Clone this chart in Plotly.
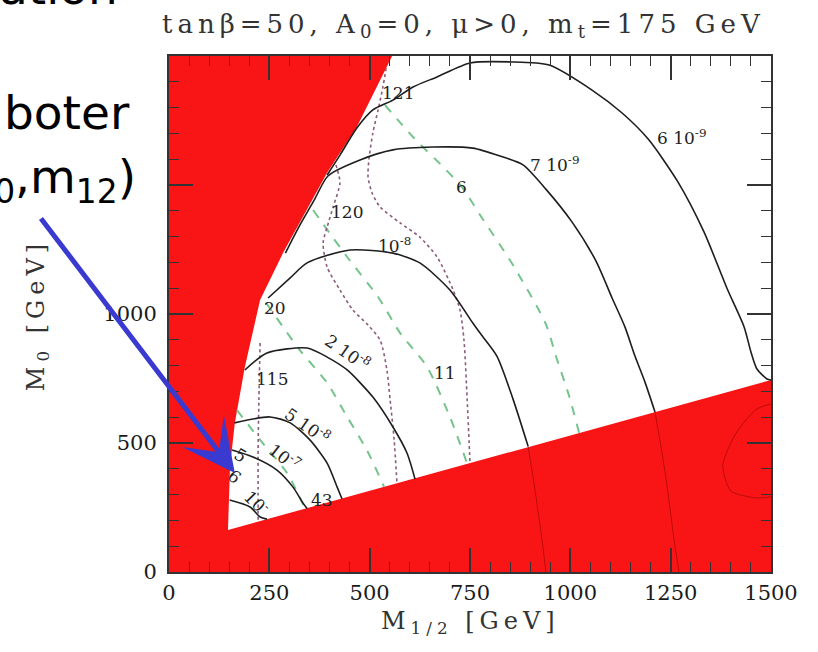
import plotly.graph_objects as go

# ---- axis ranges and ticks ----
m12_ticks = [0, 250, 500, 750, 1000, 1250, 1500]
m0_ticks = [0, 500, 1000, 1500, 2000]
m0_ticktext = ["0", "500", "1000", "", ""]

# ---- allowed (white) region: left edge (tachyonic / LSP limit) and lower edge ----
edge_m12 = [556, 468, 394, 326, 284, 227, 189, 164, 152, 147]
edge_m0 = [2000, 1725, 1547, 1353, 1236, 1054, 795, 578, 407, 163]
floor_m12 = [147, 1500]
floor_m0 = [163, 744]

# ---- BR contours (solid black) ----
br_6e9_x = [394, 426, 468, 508, 558, 608, 668, 750, 852, 947, 1054, 1129, 1194, 1268, 1333, 1390, 1433, 1450, 1465, 1490, 1500]
br_6e9_y = [1539, 1616, 1721, 1791, 1829, 1880, 1919, 1973, 1977, 1965, 1868, 1779, 1678, 1512, 1318, 1101, 950, 853, 787, 748, 744]
br_7e9_x = [290, 322, 362, 396, 476, 558, 658, 757, 825, 882, 939, 1004, 1064, 1104, 1136, 1161, 1186, 1211]
br_7e9_y = [1236, 1333, 1442, 1535, 1597, 1636, 1647, 1643, 1612, 1578, 1484, 1357, 1205, 1062, 950, 837, 736, 620]
br_1e8_x = [247, 302, 344, 451, 558, 625, 700, 757, 775, 817, 857, 895]
br_1e8_y = [1062, 1140, 1198, 1248, 1236, 1198, 1093, 965, 926, 837, 671, 486]
br_2e8_x = [189, 244, 344, 394, 444, 508, 558, 593, 613]
br_2e8_y = [783, 849, 868, 833, 783, 678, 562, 461, 360]
br_5e8_x = [163, 252, 302, 351, 394, 419, 431]
br_5e8_y = [578, 601, 578, 512, 422, 329, 284]
br_1e7_x = [157, 209, 269, 309, 334, 344]
br_1e7_y = [473, 446, 395, 329, 267, 246]
br_1e6_x = [151, 202, 227, 244]
br_1e6_y = [279, 252, 213, 205]

# faint continuations inside the excluded region
tail_a_x = [1211, 1236, 1261, 1271]
tail_a_y = [620, 388, 97, 0]
tail_b_x = [895, 912, 932, 939]
tail_b_y = [486, 318, 93, 0]
tail_c_x = [1500, 1465, 1415, 1380, 1400, 1465, 1500]
tail_c_y = [651, 632, 543, 415, 314, 287, 291]

# ---- Higgs mass contours (dotted) ----
mh_121_x = [541, 533, 521, 508, 498, 496, 506, 526, 576, 625, 668, 708, 725, 735, 743, 750]
mh_121_y = [1953, 1880, 1791, 1702, 1597, 1531, 1469, 1415, 1353, 1298, 1221, 1093, 1016, 899, 667, 424]
mh_120_x = [416, 426, 409, 394, 384, 394, 426, 458, 496, 526, 543, 551, 561, 568]
mh_120_y = [1578, 1508, 1415, 1337, 1275, 1182, 1093, 1016, 957, 899, 783, 667, 512, 345]
mh_115_x = [227, 224, 222, 222, 222]
mh_115_y = [888, 667, 473, 329, 196]

# ---- g-2 contours (green dashed) ----
amu_6_x = [538, 608, 683, 730, 775, 857, 939, 964, 997, 1022]
amu_6_y = [1810, 1686, 1570, 1492, 1384, 1190, 961, 837, 682, 539]
amu_11_x = [359, 444, 521, 576, 643, 700, 743]
amu_11_y = [1403, 1221, 1066, 926, 795, 601, 420]
amu_20_x = [242, 326, 394, 444, 493, 536]
amu_20_y = [1043, 860, 733, 601, 473, 330]
amu_43_x = [169, 227, 294, 339]
amu_43_y = [628, 512, 384, 246]

# ---- contour labels ----
lab_text = ["6 10<sup>-9</sup>", "7 10<sup>-9</sup>", "121", "6", "120", "10<sup>-8</sup>", "20",
            "2 10<sup>-8</sup>", "115", "11", "5 10<sup>-8</sup>", "5", "10<sup>-7</sup>", "6",
            "10<sup>-</sup>", "43"]
lab_x = [1278, 960, 571, 730, 444, 563, 264, 446, 257, 688, 344, 177, 289, 164, 219, 381]
lab_y = [1686, 1581, 1857, 1492, 1395, 1267, 1023, 853, 748, 771, 570, 453, 446, 368, 271, 279]
lab_angle = [0, 0, 0, 0, 0, 0, 0, 35, 0, 0, 35, 30, 38, 40, 45, 0]

RED = "#f91515"
BLACK = "#1e1e1e"
PURPLE = "#8c5c7c"
GREEN = "#74c48c"
SERIF = "DejaVu Serif"

fig = go.Figure()

# white allowed region drawn over the red plot background
fig.add_trace(go.Scatter(
    x=edge_m12 + [floor_m12[1], floor_m12[1]],
    y=edge_m0 + [floor_m0[1], 2000],
    mode="lines", fill="toself", fillcolor="white",
    line=dict(width=0), hoverinfo="skip"))


def curve(xs, ys, color, width, dash="solid"):
    fig.add_trace(go.Scatter(x=xs, y=ys, mode="lines",
                             line=dict(color=color, width=width, dash=dash,
                                       shape="spline", smoothing=0.7),
                             hoverinfo="skip"))


for xs, ys in [(tail_a_x, tail_a_y), (tail_b_x, tail_b_y), (tail_c_x, tail_c_y)]:
    curve(xs, ys, "rgba(110,0,0,0.45)", 1)

for xs, ys in [(amu_6_x, amu_6_y), (amu_11_x, amu_11_y), (amu_20_x, amu_20_y), (amu_43_x, amu_43_y)]:
    curve(xs, ys, GREEN, 2, "dash")

for xs, ys in [(mh_121_x, mh_121_y), (mh_120_x, mh_120_y), (mh_115_x, mh_115_y)]:
    curve(xs, ys, PURPLE, 1.6, "dot")

for xs, ys in [(br_6e9_x, br_6e9_y), (br_7e9_x, br_7e9_y), (br_1e8_x, br_1e8_y),
               (br_2e8_x, br_2e8_y), (br_5e8_x, br_5e8_y), (br_1e7_x, br_1e7_y),
               (br_1e6_x, br_1e6_y)]:
    curve(xs, ys, BLACK, 1.6)

for t, x, y, a in zip(lab_text, lab_x, lab_y, lab_angle):
    fig.add_annotation(x=x, y=y, xref="x", yref="y", text=t, showarrow=False,
                       textangle=a, font=dict(family=SERIF, size=17, color="#222"))

axis_common = dict(
    showline=True, linecolor="#333", linewidth=2, mirror="ticks",
    ticks="inside", ticklen=24, tickwidth=1.5, tickcolor="#333",
    showgrid=False, zeroline=False,
    tickfont=dict(family=SERIF, size=21, color="#1a1a1a"),
)
fig.update_xaxes(range=[0, 1500], tickvals=m12_ticks,
                 minor=dict(dtick=50, ticks="inside", ticklen=10, tickwidth=1.2, tickcolor="#333"),
                 ticklabelstandoff=1, **axis_common)
fig.update_yaxes(range=[0, 2000], tickvals=m0_ticks, ticktext=m0_ticktext,
                 minor=dict(dtick=100, ticks="inside", ticklen=10, tickwidth=1.2, tickcolor="#333"),
                 ticklabelstandoff=6, **axis_common)

SP = "letter-spacing:5px"
# panel title
fig.add_annotation(xref="paper", yref="paper", x=-0.015, y=1.06, xanchor="left", yanchor="middle",
                   text=f'<span style="{SP}">tanβ=50, A<sub>0</sub>=0, μ>0, m<sub>t</sub>=175 GeV</span>',
                   showarrow=False, font=dict(family=SERIF, size=26, color="#333"))
# axis titles
fig.add_annotation(xref="paper", yref="paper", x=0.5, y=-0.098, xanchor="center", yanchor="middle",
                   text=f'<span style="{SP}">M<sub>1/2</sub> [GeV]</span>',
                   showarrow=False, font=dict(family=SERIF, size=24, color="#333"))
fig.add_annotation(xref="paper", yref="paper", x=-0.219, y=0.498, xanchor="center", yanchor="middle",
                   text=f'<span style="{SP}">M<sub>0</sub> [GeV]</span>', textangle=-90,
                   showarrow=False, font=dict(family=SERIF, size=24, color="#333"))

# slide text around the figure
HAND = "DejaVu Sans"
fig.add_annotation(xref="paper", yref="paper", x=-0.081, y=1.132, xanchor="right", yanchor="middle",
                   text="ation", showarrow=False, font=dict(family=HAND, size=47, color="black"))
fig.add_annotation(xref="paper", yref="paper", x=-0.0615, y=0.891, xanchor="right", yanchor="middle",
                   text="boter", showarrow=False, font=dict(family=HAND, size=47, color="black"))
fig.add_annotation(xref="paper", yref="paper", x=-0.0515, y=0.760, xanchor="right", yanchor="middle",
                   text="(m<sub>0</sub>,m<sub>12</sub>)", showarrow=False,
                   font=dict(family=HAND, size=47, color="black"))

# pointer arrow
fig.add_annotation(x=164, y=384, xref="x", yref="y", ax=-195, ay=-256, axref="pixel", ayref="pixel",
                   text="", showarrow=True, arrowhead=3, arrowsize=1.75, arrowwidth=5,
                   arrowcolor="#3a3ad0", standoff=0)

fig.update_layout(width=818, height=652, margin=dict(l=169, r=47, t=56, b=80),
                  paper_bgcolor="white", plot_bgcolor=RED, showlegend=False)

fig.write_html("out.html")
